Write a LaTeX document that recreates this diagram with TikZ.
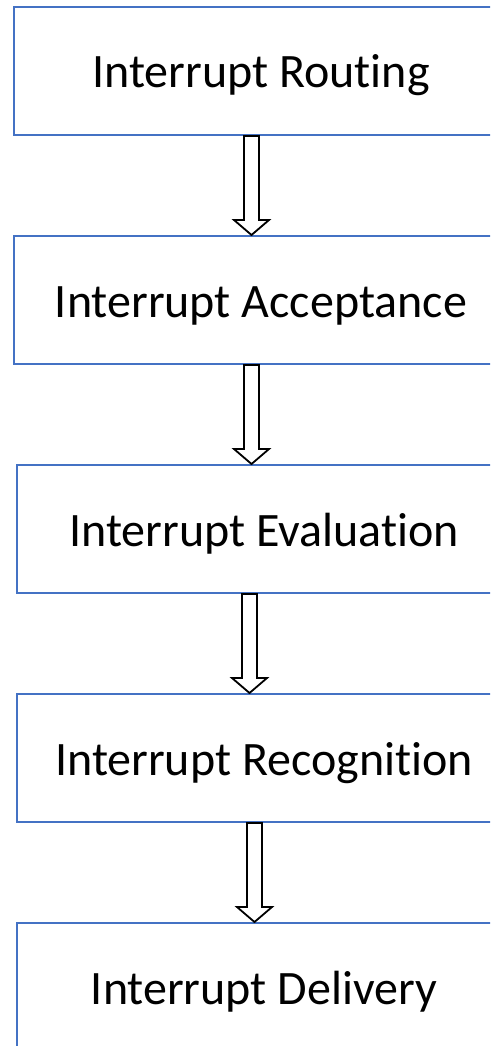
\documentclass[tikz,border=0pt]{standalone}
\usepackage{fontspec}
\setmainfont[Ligatures=NoCommon]{Carlito}
\usetikzlibrary{calc}
\definecolor{boxblue}{HTML}{4472C4}
\tikzset{
  stagebox/.style={draw=boxblue, line width=2pt, fill=white, anchor=north west,
    minimum width=494pt, minimum height=128pt, inner sep=0pt,
    text height=34pt, text depth=0pt, font=\fontsize{48}{52}\selectfont},
  flowarrow/.style={draw=black, line width=1.8pt, fill=white, line join=miter}
}
\newcommand{\stagearrow}[3]{%
  \draw[flowarrow] let \p1=(#1.south -| #3), \p2=(#2.north -| #3) in
    (\x1-7.5pt,\y1) -- (\x1+7.5pt,\y1) -- (\x1+7.5pt,\y2+15pt) -- (\x1+17.5pt,\y2+15pt)
    -- (\x2,\y2) -- (\x1-17.5pt,\y2+15pt) -- (\x1-7.5pt,\y2+15pt) -- cycle;}
\begin{document}
\begin{tikzpicture}[x=1pt, y=-1pt]
  \useasboundingbox (0,0) rectangle (490,1046);
  \clip (0,0) rectangle (490,1046);
  % the five stages, top to bottom
  \node[stagebox] (routing)     at (13,6)   {Interrupt Routing};
  \node[stagebox] (acceptance)  at (13,235) {Interrupt Acceptance};
  \node[stagebox] (evaluation)  at (16,464) {Interrupt Evaluation};
  \node[stagebox] (recognition) at (16,693) {Interrupt Recognition};
  \node[stagebox] (delivery)    at (16,922) {Interrupt Delivery};
  % horizontal positions of the block arrows
  \coordinate (ax1) at (251.5,0);
  \coordinate (ax2) at (251.5,0);
  \coordinate (ax3) at (249.5,0);
  \coordinate (ax4) at (254.5,0);
  \stagearrow{routing}{acceptance}{ax1}
  \stagearrow{acceptance}{evaluation}{ax2}
  \stagearrow{evaluation}{recognition}{ax3}
  \stagearrow{recognition}{delivery}{ax4}
\end{tikzpicture}
\end{document}
